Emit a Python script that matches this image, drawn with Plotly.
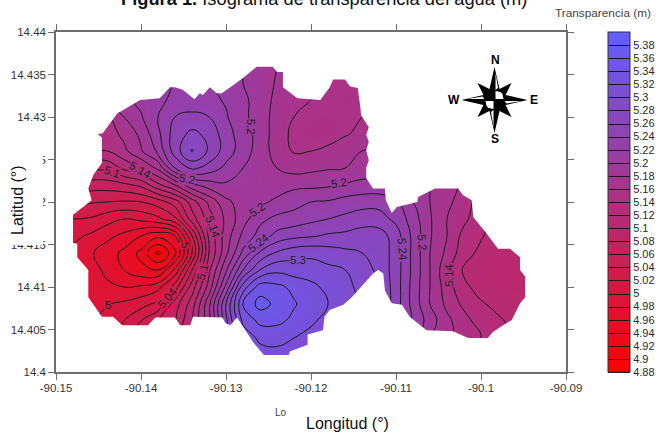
import plotly.graph_objects as go

# --- data ---
lon_nodes = [-90.148,-90.146,-90.144,-90.142,-90.140,-90.138,-90.136,-90.134,-90.132,-90.130,
             -90.128,-90.126,-90.124,-90.122,-90.120,-90.118,-90.116,-90.114,-90.112,-90.110,
             -90.108,-90.106,-90.104,-90.102,-90.100,-90.098,-90.096,-90.094]
lat_nodes = [14.402,14.404,14.406,14.408,14.410,14.412,14.414,14.416,14.418,14.420,
             14.422,14.424,14.426,14.428,14.430,14.432,14.434,14.436]
transparency = [
 [5.0,5.0,5.01,5.03,5.05,5.07,5.09,5.13,5.19,5.25,5.29,5.31,5.315,5.31,5.30,5.29,5.27,5.26,5.25,5.23,5.205,5.175,5.155,5.14,5.135,5.125,5.12,5.12],
 [5.0,5.0,5.01,5.03,5.05,5.07,5.09,5.13,5.19,5.25,5.305,5.325,5.325,5.32,5.31,5.295,5.28,5.27,5.26,5.235,5.21,5.18,5.165,5.15,5.14,5.125,5.12,5.12],
 [5.0,5.0,5.005,5.02,5.04,5.06,5.08,5.12,5.175,5.255,5.325,5.345,5.345,5.335,5.325,5.31,5.295,5.285,5.27,5.245,5.218,5.19,5.165,5.148,5.13,5.123,5.115,5.115],
 [4.998,4.998,4.999,5.004,5.012,5.026,5.07,5.11,5.175,5.26,5.34,5.368,5.355,5.342,5.33,5.32,5.31,5.295,5.28,5.25,5.213,5.18,5.155,5.135,5.122,5.115,5.112,5.112],
 [4.995,4.99,4.984,4.98,4.983,4.993,5.03,5.09,5.148,5.225,5.31,5.35,5.345,5.335,5.325,5.315,5.305,5.295,5.28,5.25,5.213,5.18,5.15,5.124,5.113,5.107,5.105,5.105],
 [4.995,4.99,4.975,4.96,4.945,4.94,4.985,5.06,5.136,5.197,5.26,5.30,5.315,5.31,5.31,5.305,5.30,5.29,5.275,5.25,5.215,5.18,5.145,5.117,5.11,5.105,5.105,5.105],
 [4.995,4.983,4.97,4.955,4.935,4.895,4.935,5.02,5.12,5.175,5.225,5.263,5.283,5.292,5.295,5.29,5.285,5.28,5.275,5.25,5.215,5.18,5.155,5.128,5.115,5.108,5.105,5.105],
 [5.005,4.997,4.985,4.975,4.96,4.945,4.96,5.04,5.125,5.17,5.205,5.228,5.247,5.255,5.258,5.263,5.265,5.27,5.27,5.25,5.215,5.182,5.16,5.133,5.122,5.11,5.11,5.11],
 [5.02,5.018,5.008,5.0,5.005,5.015,5.035,5.09,5.13,5.165,5.192,5.215,5.225,5.228,5.235,5.24,5.245,5.25,5.248,5.235,5.21,5.182,5.16,5.145,5.125,5.115,5.11,5.11],
 [5.05,5.042,5.04,5.038,5.04,5.05,5.07,5.11,5.145,5.175,5.19,5.195,5.205,5.213,5.22,5.222,5.228,5.232,5.233,5.225,5.20,5.18,5.165,5.15,5.13,5.12,5.11,5.11],
 [5.075,5.07,5.07,5.075,5.085,5.115,5.14,5.175,5.19,5.197,5.195,5.19,5.188,5.195,5.195,5.197,5.202,5.205,5.205,5.20,5.19,5.18,5.17,5.155,5.135,5.12,5.11,5.11],
 [5.11,5.105,5.105,5.125,5.14,5.165,5.22,5.245,5.232,5.215,5.2,5.188,5.18,5.172,5.175,5.178,5.18,5.19,5.19,5.19,5.185,5.18,5.17,5.155,5.14,5.125,5.115,5.11],
 [5.14,5.14,5.14,5.155,5.178,5.205,5.25,5.282,5.257,5.23,5.21,5.19,5.172,5.158,5.16,5.165,5.172,5.18,5.18,5.18,5.18,5.175,5.165,5.155,5.14,5.125,5.115,5.11],
 [5.16,5.16,5.15,5.165,5.185,5.215,5.25,5.265,5.255,5.228,5.21,5.192,5.17,5.155,5.147,5.15,5.158,5.165,5.17,5.17,5.17,5.17,5.16,5.15,5.14,5.125,5.115,5.11],
 [5.17,5.17,5.155,5.18,5.198,5.22,5.24,5.245,5.24,5.222,5.205,5.19,5.172,5.16,5.152,5.15,5.153,5.16,5.165,5.165,5.165,5.165,5.155,5.15,5.14,5.125,5.115,5.11],
 [5.17,5.17,5.18,5.195,5.205,5.215,5.225,5.228,5.225,5.218,5.205,5.19,5.175,5.163,5.16,5.155,5.15,5.155,5.16,5.16,5.16,5.16,5.155,5.15,5.14,5.125,5.115,5.11],
 [5.17,5.17,5.18,5.195,5.205,5.215,5.22,5.225,5.22,5.215,5.20,5.19,5.178,5.17,5.165,5.16,5.155,5.15,5.155,5.155,5.155,5.155,5.15,5.145,5.14,5.125,5.115,5.11],
 [5.17,5.17,5.18,5.19,5.2,5.21,5.215,5.218,5.215,5.21,5.2,5.19,5.18,5.172,5.165,5.16,5.155,5.15,5.15,5.15,5.15,5.15,5.15,5.145,5.14,5.125,5.115,5.11],
]
# outline of the surveyed area (lon, lat)
region_lon = [-90.1264,-90.1245,-90.1240,-90.1233,-90.1233,-90.1216,-90.1189,-90.1178,-90.1174,-90.1160,-90.1154,-90.1145,
 -90.1142,-90.1141,-90.1132,-90.1135,-90.1132,-90.1135,-90.1132,-90.1135,-90.1135,-90.1127,-90.1113,-90.1112,-90.1105,
 -90.1099,-90.1075,-90.1074,-90.1054,-90.1027,-90.1021,-90.1011,-90.1009,-90.0995,-90.0980,-90.0966,-90.0954,-90.0954,
 -90.0948,-90.0948,-90.0954,-90.0964,-90.0974,-90.0986,-90.0992,-90.1015,-90.1033,-90.1064,-90.1084,-90.1093,-90.1105,
 -90.1113,-90.1115,-90.1121,-90.1127,-90.1152,-90.1162,-90.1178,-90.1184,-90.1186,-90.1204,-90.1204,-90.1225,-90.1227,
 -90.1252,-90.1268,-90.1287,-90.1295,-90.1301,-90.1304,-90.1339,-90.1342,-90.1354,-90.1360,-90.1383,-90.1392,-90.1422,
 -90.1433,-90.1446,-90.1462,-90.1462,-90.1475,-90.1475,-90.1481,-90.1481,-90.1472,-90.1458,-90.1462,-90.1456,-90.1446,
 -90.1446,-90.1451,-90.1445,-90.1428,-90.1415,-90.1401,-90.1378,-90.1366,-90.1360,-90.1351,-90.1337,-90.1331,-90.1327,
 -90.1319,-90.1311,-90.1305,-90.1295,-90.1280,-90.1264]
region_lat = [14.4359,14.4359,14.4353,14.4353,14.4335,14.4322,14.4320,14.4335,14.4344,14.4344,14.4336,14.4334,
 14.4312,14.4302,14.4288,14.4279,14.4271,14.4261,14.4249,14.4240,14.4228,14.4216,14.4216,14.4202,14.4187,
 14.4194,14.4200,14.4206,14.4216,14.4216,14.4208,14.4202,14.4182,14.4165,14.4145,14.4145,14.4135,14.4120,
 14.4112,14.4088,14.4081,14.4061,14.4055,14.4047,14.4040,14.4040,14.4048,14.4049,14.4065,14.4079,14.4081,
 14.4096,14.4116,14.4120,14.4116,14.4088,14.4079,14.4073,14.4065,14.4049,14.4044,14.4032,14.4024,14.4016,
 14.4016,14.4035,14.4064,14.4055,14.4058,14.4064,14.4065,14.4055,14.4055,14.4064,14.4064,14.4055,14.4055,
 14.4065,14.4065,14.4088,14.4120,14.4135,14.4151,14.4152,14.4184,14.4191,14.4202,14.4216,14.4232,14.4246,
 14.4276,14.4280,14.4281,14.4304,14.4312,14.4320,14.4322,14.4335,14.4335,14.4332,14.4321,14.4328,14.4326,
 14.4335,14.4328,14.4328,14.4335,14.4346,14.4359]
x_ticks = [-90.15,-90.14,-90.13,-90.12,-90.11,-90.10,-90.09]
x_tick_text = ["-90.15","-90.14","-90.13","-90.12","-90.11","-90.1","-90.09"]
y_ticks = [14.40,14.405,14.41,14.415,14.42,14.425,14.43,14.435,14.44]
y_tick_text = ["14.4","14.405","14.41","14.415","14.42","14.425","14.43","14.435","14.44"]
legend_levels = [4.88,4.9,4.92,4.94,4.96,4.98,5,5.02,5.04,5.06,5.08,5.1,5.12,5.14,5.16,5.18,5.2,5.22,5.24,5.26,5.28,5.3,5.32,5.34,5.36,5.38]
# contour labels: text, level, lon, lat, angle
label_text = ["5.2","5.1","5.14","5.2","5.14","5.2","5.2","5.24","5.3","5","5.1","5.04","5","5.24","5.2","5.14"]
label_level = [5.2,5.1,5.14,5.2,5.14,5.2,5.2,5.24,5.3,5.0,5.1,5.04,5.0,5.24,5.2,5.14]
label_lon = [-90.1271,-90.1434,-90.1401,-90.1346,-90.1315,-90.1264,-90.1167,-90.1262,-90.1215,-90.1348,-90.1328,-90.1369,-90.1439,-90.1092,-90.1069,-90.1037]
label_lat = [14.4289,14.4235,14.4238,14.4227,14.4171,14.4191,14.4222,14.4152,14.4132,14.4149,14.4118,14.4087,14.4079,14.4144,14.4152,14.4114]
label_angle = [90,20,30,10,70,-35,-10,-38,0,80,-75,-50,0,85,85,-90]

Z_MIN, Z_MAX = 4.88, 5.40
RED = (255, 0, 0)
BLUE = (95, 95, 255)
PLOT_L, PLOT_R, PLOT_T, PLOT_B = 56, 566, 32, 372
FONT = "Liberation Sans"


def level_color(v):
    t = (v - Z_MIN) / (Z_MAX - Z_MIN)
    return "rgb(%d,%d,%d)" % tuple(round(a + (b - a) * t) for a, b in zip(RED, BLUE))


def px_x(p):
    return (p - PLOT_L) / (PLOT_R - PLOT_L)


def px_y(p):
    return (PLOT_B - p) / (PLOT_B - PLOT_T)


def note(text, cx, cy, size, color, angle=0):
    return dict(x=px_x(cx), y=px_y(cy), xref="paper", yref="paper", xanchor="center", yanchor="middle",
                showarrow=False, text=text, textangle=angle,
                font=dict(family=FONT, size=size, color=color))


fig = go.Figure()
fig.add_trace(go.Contour(
    x=lon_nodes, y=lat_nodes, z=transparency,
    zauto=False, zmin=Z_MIN, zmax=Z_MAX,
    colorscale=[[0, "rgb(%d,%d,%d)" % RED], [1, "rgb(%d,%d,%d)" % BLUE]],
    autocontour=False,
    contours=dict(start=4.88, end=5.38, size=0.02, coloring="heatmap", showlabels=False),
    line=dict(color="#1a1a1a", width=1, smoothing=1.3),
    hoverinfo="skip",
    colorbar=dict(
        x=px_x(608), xanchor="left", xpad=0, y=0.5, yanchor="middle", ypad=0,
        len=1, lenmode="fraction", thickness=22, thicknessmode="pixels",
        outlinecolor="#333333", outlinewidth=1,
        tickmode="array", tickvals=legend_levels, ticktext=[str(v) for v in legend_levels],
        ticks="", tickfont=dict(family=FONT, size=11, color="#2a2a2a"),
    ),
))

# white mask: everything outside the surveyed area
mask_x = [region_lon[0], -90.15, -90.15, -90.09, -90.09, region_lon[0]] + region_lon + [region_lon[0]]
mask_y = [14.44, 14.44, 14.40, 14.40, 14.44, 14.44] + region_lat + [14.44]
fig.add_trace(go.Scatter(x=mask_x, y=mask_y, mode="lines", line=dict(width=0), fill="toself",
                         fillcolor="white", hoverinfo="skip", showlegend=False))

annotations = []
for t, lv, lo, la, ang in zip(label_text, label_level, label_lon, label_lat, label_angle):
    annotations.append(dict(x=lo, y=la, xref="x", yref="y", xanchor="center", yanchor="middle",
                            text=t, showarrow=False, textangle=ang,
                            font=dict(family=FONT, size=11.5, color="#222222"),
                            bgcolor=level_color(lv), borderpad=0))

annotations += [
    note("<b>Figura 1.</b> Isograma de transparencia del agua (m)", 324, -1, 18.3, "#111111"),
    note("Transparencia (m)", 603, 13, 11.8, "#444444"),
    note("Latitud (°)", 17, 200, 16, "#111111", angle=-90),
    note("Longitud (°)", 347, 424, 16, "#111111"),
    note("Lo", 281, 412, 10, "#444444"),
]
for letter, cx, cy in [("N", 495, 60), ("S", 495, 139), ("W", 454, 100), ("E", 534, 100)]:
    annotations.append(note("<b>%s</b>" % letter, cx, cy, 12, "black"))

# north arrow, as pixel offsets around its anchor
compass_lon, compass_lat = -90.15 + (494.5 - PLOT_L) / 8500, 14.40 + (PLOT_B - 100) / 8500
star = ("M0,33 L5,11 L17,17 L11,5 L33,0 L11,-5 L17,-17 L5,-11 L0,-33 L-5,-11 L-17,-17 L-11,-5 "
        "L-33,0 L-11,5 L-17,17 L-5,11 Z")
holes = ("M1,27 L3.5,12 L1,10 Z M27,-1 L12,-3.5 L10,-1 Z M-1,-27 L-3.5,-12 L-1,-10 Z M-27,1 L-12,3.5 L-10,1 Z "
         "M1,1 L9,1 L8,6 L6,8 L1,9 Z M-1,-1 L-9,-1 L-8,-6 L-6,-8 L-1,-9 Z")
shape_common = dict(type="path", xref="x", yref="y", xsizemode="pixel", ysizemode="pixel",
                    xanchor=compass_lon, yanchor=compass_lat, line=dict(width=0), layer="above")
shapes = [
    # white box that hides parts of the y tick labels
    dict(type="rect", xref="paper", yref="paper", x0=px_x(0), x1=px_x(43), y0=px_y(245), y1=px_y(152),
         fillcolor="white", line=dict(width=0), layer="above"),
    dict(path=star, fillcolor="black", **shape_common),
    dict(path=holes, fillcolor="white", **shape_common),
]

axis_style = dict(showgrid=False, zeroline=False, showline=True, linecolor="#6e6e6e", linewidth=1.5,
                  mirror="ticks", ticks="outside", ticklen=6, tickwidth=1, tickcolor="#6e6e6e",
                  tickfont=dict(family=FONT, size=11.5, color="#333333"), tickmode="array")
fig.update_layout(
    width=665, height=432, autosize=False,
    margin=dict(l=PLOT_L, r=665 - PLOT_R, t=PLOT_T, b=432 - PLOT_B, pad=0),
    paper_bgcolor="white", plot_bgcolor="white", showlegend=False,
    xaxis=dict(range=[-90.15, -90.09], tickvals=x_ticks, ticktext=x_tick_text, ticklabelstandoff=-2, **axis_style),
    yaxis=dict(range=[14.40, 14.44], tickvals=y_ticks, ticktext=y_tick_text, **axis_style),
    annotations=annotations, shapes=shapes,
)
fig.write_html("out.html", config=dict(displayModeBar=False),
               post_script="document.body.style.margin='0';document.body.style.overflow='hidden';")
